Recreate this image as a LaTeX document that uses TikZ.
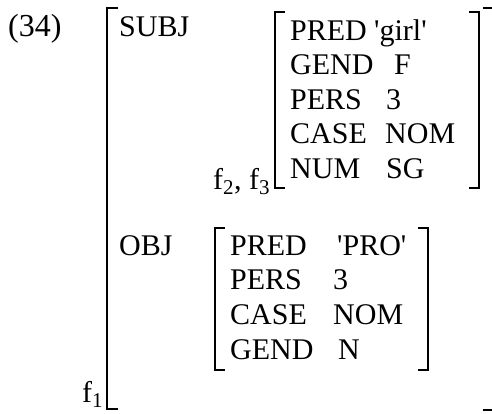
\documentclass[tikz,border=0pt]{standalone}
\usepackage{fontspec}
\setmainfont{Liberation Serif}
\begin{document}
\begin{tikzpicture}[x=1pt,y=-1pt,
  lbl/.style={anchor=base west,inner sep=0pt,font=\fontsize{30}{36}\selectfont},
  brk/.style={line width=1.2pt}]
\useasboundingbox (0,0) rectangle (492,413);
% outer f-structure
\node[lbl,font=\fontsize{32}{36}\selectfont] (ex) at (8,36) {(34)};
\draw[brk] (118,8) -- (107,8) -- (107,409) -- (118,409);
\draw[brk] (483,8) -- (494,8) -- (494,410) -- (483,410);
\node[lbl] (subj) at (119,36) {SUBJ};
\node[lbl] (obj) at (119,255) {OBJ};
\node[lbl] (f1) at (82,402) {f\textsubscript{1}};
% SUBJ value
\draw[brk] (285,12) -- (275,12) -- (275,188) -- (285,188);
\draw[brk] (469,12) -- (479,12) -- (479,188) -- (469,188);
\node[lbl] (s1a) at (290,40) {PRED};
\node[lbl] (s1v) at (374,40) {\textquotesingle girl\textquotesingle};
\node[lbl] (s2a) at (290,74.5) {GEND};
\node[lbl] (s2v) at (394,74.5) {F};
\node[lbl] (s3a) at (290,109) {PERS};
\node[lbl] (s3v) at (386,109) {3};
\node[lbl] (s4a) at (290,143.5) {CASE};
\node[lbl] (s4v) at (385,143.5) {NOM};
\node[lbl] (s5a) at (290,178) {NUM};
\node[lbl] (s5v) at (386,178) {SG};
\node[lbl] (f23) at (213,189) {f\textsubscript{2}, f\textsubscript{3}};
% OBJ value
\draw[brk] (225,228) -- (215,228) -- (215,370) -- (225,370);
\draw[brk] (418,228) -- (428,228) -- (428,370) -- (418,370);
\node[lbl] (o1a) at (230,255) {PRED};
\node[lbl] (o1v) at (337,255) {\textquotesingle PRO\textquotesingle};
\node[lbl] (o2a) at (230,289) {PERS};
\node[lbl] (o2v) at (333,289) {3};
\node[lbl] (o3a) at (230,324) {CASE};
\node[lbl] (o3v) at (333,324) {NOM};
\node[lbl] (o4a) at (230,359) {GEND};
\node[lbl] (o4v) at (338,359) {N};
\end{tikzpicture}
\end{document}
